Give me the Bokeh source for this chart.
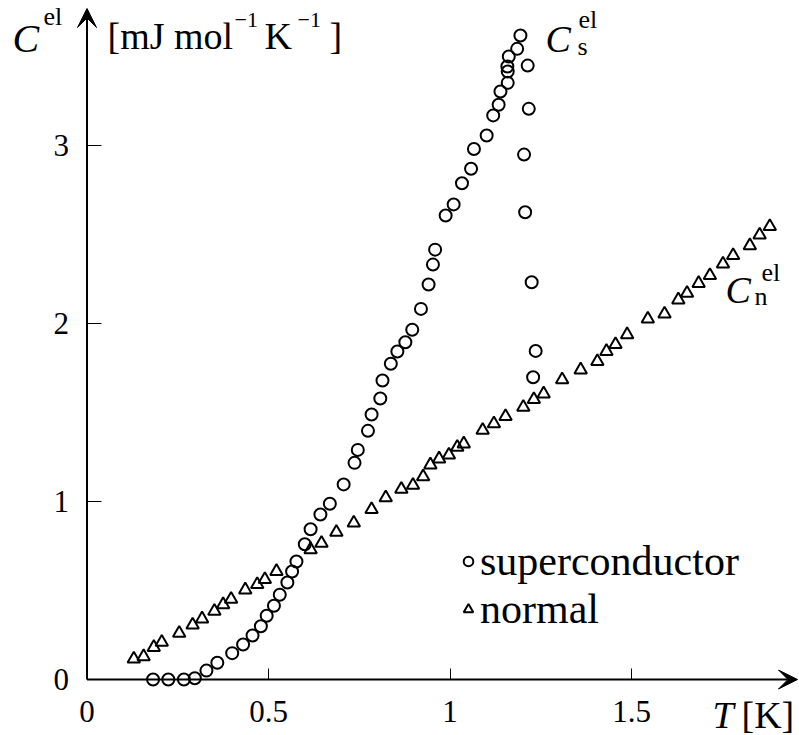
from bokeh.plotting import figure
from bokeh.models import (Range1d, FixedTicker, Arrow, VeeHead, Label, Legend,
                          LegendItem, ColumnDataSource)
from bokeh.embed import file_html
from bokeh.resources import INLINE

# ---------------- data ----------------
sc_T = [0.182, 0.224, 0.267, 0.297, 0.329, 0.359, 0.400, 0.430, 0.456, 0.479,
        0.495, 0.515, 0.531, 0.552, 0.565, 0.577, 0.600, 0.616, 0.643, 0.669,
        0.707, 0.737, 0.746, 0.774, 0.784, 0.808, 0.814, 0.837, 0.855, 0.877,
        0.896, 0.920, 0.941, 0.953, 0.959, 0.988, 1.010, 1.033, 1.058, 1.066,
        1.101, 1.119, 1.134, 1.139, 1.159, 1.159, 1.158, 1.162, 1.185, 1.194,
        1.214, 1.217, 1.204, 1.207, 1.225, 1.236, 1.229]
sc_C = [0.000, 0.000, 0.000, 0.007, 0.050, 0.094, 0.148, 0.197, 0.247, 0.299,
        0.358, 0.414, 0.476, 0.545, 0.607, 0.663, 0.760, 0.844, 0.927, 0.987,
        1.096, 1.217, 1.290, 1.397, 1.489, 1.579, 1.680, 1.774, 1.843, 1.895,
        1.965, 2.082, 2.219, 2.331, 2.415, 2.607, 2.669, 2.788, 2.869, 2.980,
        3.056, 3.169, 3.229, 3.303, 3.352, 3.416, 3.444, 3.500, 3.543, 3.618,
        3.449, 3.206, 2.949, 2.625, 2.232, 1.846, 1.698]

n_T = [0.129, 0.156, 0.184, 0.206, 0.254, 0.291, 0.317, 0.351, 0.375, 0.397,
       0.436, 0.469, 0.490, 0.522, 0.616, 0.646, 0.687, 0.735, 0.784, 0.823,
       0.866, 0.898, 0.926, 0.946, 0.970, 0.997, 1.020, 1.038, 1.090, 1.121,
       1.153, 1.202, 1.231, 1.258, 1.309, 1.360, 1.406, 1.431, 1.456, 1.488,
       1.545, 1.591, 1.629, 1.653, 1.685, 1.716, 1.752, 1.780, 1.826, 1.853,
       1.881]
n_C = [0.116, 0.129, 0.181, 0.210, 0.260, 0.307, 0.341, 0.384, 0.421, 0.451,
       0.504, 0.534, 0.562, 0.608, 0.730, 0.766, 0.828, 0.880, 0.955, 1.021,
       1.069, 1.092, 1.139, 1.206, 1.240, 1.262, 1.305, 1.324, 1.401, 1.437,
       1.478, 1.530, 1.573, 1.605, 1.684, 1.740, 1.787, 1.844, 1.882, 1.938,
       2.026, 2.054, 2.133, 2.170, 2.226, 2.270, 2.335, 2.382, 2.438, 2.498,
       2.545]

x_ticks = [0, 0.5, 1, 1.5]
x_tick_labels = ["0", "0.5", "1", "1.5"]
y_ticks = [0, 1, 2, 3]
y_tick_labels = ["0", "1", "2", "3"]

series_labels = ["superconductor", "normal"]

# ---------------- layout constants ----------------
W, H = 799, 735
X0_COL = 86.5            # canvas column of T = 0
Y0_ROW = 679.0           # canvas row of C = 0
PX_PER_K = 363.0
PX_PER_C = 178.0
FONT = "Liberation Serif"
TEXT_SHIFT = 12          # labels render lower than their anchor row

# the frame covers the whole canvas so that nothing gets clipped
x_lo = -X0_COL / PX_PER_K
x_hi = (W - X0_COL) / PX_PER_K
y_hi = Y0_ROW / PX_PER_C
y_lo = -(H - Y0_ROW) / PX_PER_C


def gx(col):
    return (col - X0_COL) / PX_PER_K


def gy(row):
    return (Y0_ROW - row) / PX_PER_C


p = figure(width=W, height=H, x_range=Range1d(x_lo, x_hi),
           y_range=Range1d(y_lo, y_hi), output_backend="svg",
           toolbar_location=None, title=None,
           min_border_left=0, min_border_right=0,
           min_border_top=0, min_border_bottom=0)
p.outline_line_color = None
p.xgrid.visible = False
p.ygrid.visible = False
p.background_fill_color = "white"
p.border_fill_color = "white"

for ax, ticks, labels in ((p.xaxis[0], x_ticks, x_tick_labels),
                          (p.yaxis[0], y_ticks, y_tick_labels)):
    ax.fixed_location = 0
    ax.ticker = FixedTicker(ticks=ticks)
    ax.major_label_overrides = {t: l for t, l in zip(ticks, labels)}
    ax.axis_line_color = None
    ax.major_tick_out = 0
    ax.minor_tick_line_color = None
    ax.major_tick_line_color = "black"
    ax.major_tick_line_width = 1
    ax.major_label_text_font = FONT
    ax.major_label_text_font_size = "31px"
    ax.major_label_text_color = "black"
p.xaxis[0].major_tick_in = 11
p.yaxis[0].major_tick_in = 14
p.xaxis[0].major_label_standoff = 21
p.yaxis[0].major_label_standoff = 18

# axis lines with arrow heads
p.add_layout(Arrow(x_start=0, y_start=0, x_end=gx(797), y_end=0,
                   line_width=2, line_color="black",
                   end=VeeHead(size=19, fill_color="black", line_color="black")))
p.add_layout(Arrow(x_start=0, y_start=0, x_end=0, y_end=gy(8),
                   line_width=2, line_color="black",
                   end=VeeHead(size=19, fill_color="black", line_color="black")))

# data
r_n = p.scatter("T", "C", source=ColumnDataSource(dict(T=n_T, C=n_C)),
                marker="triangle", size=12.5, fill_color=None,
                line_color="black", line_width=2)
r_s = p.scatter("T", "C", source=ColumnDataSource(dict(T=sc_T, C=sc_C)),
                marker="circle", size=12, fill_color=None,
                line_color="black", line_width=2)

legend = Legend(items=[LegendItem(label=series_labels[0], renderers=[r_s]),
                       LegendItem(label=series_labels[1], renderers=[r_n])],
                location=(456, 102), orientation="vertical",
                glyph_width=24, glyph_height=24, label_standoff=0,
                spacing=0, padding=0, margin=0, border_line_color=None,
                background_fill_alpha=0, label_text_font=FONT,
                label_text_font_size="42px", label_text_color="black")
p.add_layout(legend)


def add_text(txt, col, base_row, size, italic=False):
    p.add_layout(Label(x=gx(col), y=gy(base_row - TEXT_SHIFT), text=txt,
                       text_font=FONT, text_font_size=f"{size}px",
                       text_font_style="italic" if italic else "normal",
                       text_baseline="alphabetic", text_align="left",
                       text_color="black"))


# y-axis title: C^el [mJ mol^-1 K^-1]
add_text("C", 12, 50, 40, True)
add_text("el", 43, 28, 26)
add_text("[mJ mol", 107, 47, 38)
add_text("\u22121", 234, 31, 22)
add_text("K", 264, 47, 38)
add_text("\u22121", 297, 31, 22)
add_text("]", 329, 47, 38)
# C_s^el
add_text("C", 545, 50, 38, True)
add_text("el", 578, 31, 26)
add_text("s", 577, 58, 26)
# C_n^el
add_text("C", 725, 301, 38, True)
add_text("el", 761, 284, 26)
add_text("n", 754, 308, 26)
# x-axis title: T [K]
add_text("T", 712, 726, 38, True)
add_text("[K]", 741, 726, 38)

open("out.html", "w").write(file_html(p, INLINE))
